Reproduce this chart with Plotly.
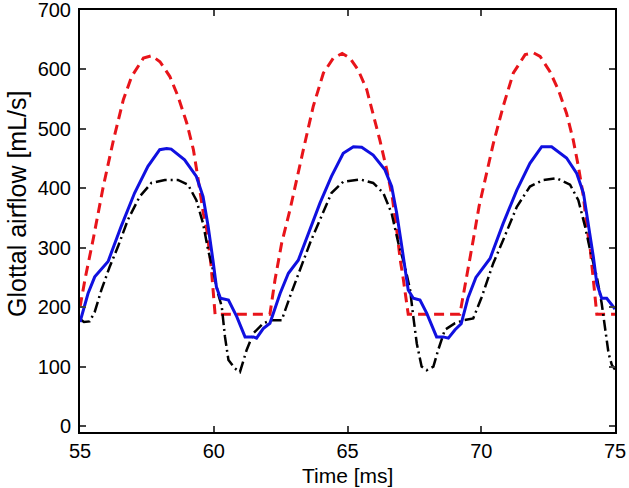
import plotly.graph_objects as go

# Red dashed curve
red_t = [55.0, 55.2, 55.5, 55.87, 56.25, 56.62, 56.93, 57.37, 57.68, 57.99, 58.36, 58.67, 58.99,
         59.24, 59.42, 59.61, 59.74, 59.9, 60.05, 62.1, 62.29, 62.54, 62.85, 63.22, 63.35, 63.72,
         64.1, 64.47, 64.8, 65.09, 65.4, 65.72, 65.96, 66.21, 66.47, 66.68, 66.84, 66.97, 67.09,
         67.27, 69.2, 69.46, 69.7, 69.92, 70.12, 70.45, 70.82, 71.2, 71.64, 71.95, 72.2, 72.57,
         72.88, 73.19, 73.44, 73.63, 73.82, 73.94, 74.07, 74.19, 74.32, 75.0]
red_v = [200, 250, 316, 403, 481, 549, 588, 619, 623, 613, 588, 554, 510,
         465, 414, 358, 330, 270, 188, 188, 246, 308, 364, 442, 465, 538,
         594, 619, 627, 619, 599, 566, 526, 481, 431, 383, 330, 280, 246,
         188, 188, 251, 313, 370, 410, 475, 538, 594, 625, 628, 622, 596,
         566, 526, 481, 437, 386, 336, 300, 251, 188, 188]

# Blue solid curve
blue_t = [55.0, 55.3, 55.55, 56.05, 56.54, 57.04, 57.54, 57.98, 58.24, 58.41, 58.91, 59.35, 59.6,
          59.79, 59.97, 60.1, 60.25, 60.55, 60.86, 61.17, 61.48, 61.6, 61.85, 62.1, 62.48, 62.79,
          63.16, 63.6, 63.97, 64.4, 64.84, 65.22, 65.53, 65.96, 66.4, 66.65, 66.84, 67.03, 67.15,
          67.27, 67.46, 67.71, 67.96, 68.21, 68.33, 68.58, 68.77, 69.02, 69.25, 69.5, 69.8, 70.33,
          70.82, 71.33, 71.82, 72.26, 72.63, 73.19, 73.57, 73.82, 74.0, 74.19, 74.32, 74.5, 74.69,
          74.93, 75.0]
blue_v = [175, 223, 251, 277, 336, 392, 437, 465, 467, 466, 448, 420, 386,
          336, 279, 234, 215, 212, 184, 150, 150, 148, 164, 173, 223, 257,
          279, 330, 375, 420, 459, 470, 469, 456, 431, 403, 358, 302, 263,
          229, 215, 212, 190, 162, 150, 150, 148, 162, 172, 215, 250, 282,
          341, 397, 442, 470, 470, 451, 425, 392, 341, 285, 240, 215, 215,
          201, 197]

# Black dash-dot curve
black_t = [55.0, 55.15, 55.36, 55.55, 55.8, 56.11, 56.42, 56.79, 57.23, 57.67, 58.17, 58.66, 59.04,
           59.35, 59.6, 59.79, 59.97, 60.16, 60.3, 60.42, 60.55, 60.79, 60.98, 61.23, 61.48, 61.85,
           62.17, 62.54, 62.85, 63.22, 63.6, 63.97, 64.4, 64.84, 65.47, 65.96, 66.34, 66.65, 66.9,
           67.15, 67.34, 67.46, 67.59, 67.77, 67.96, 68.21, 68.39, 68.64, 69.02, 69.33, 69.7, 70.0,
           70.45, 70.82, 71.33, 71.82, 72.32, 72.82, 73.32, 73.63, 73.88, 74.07, 74.32, 74.5, 74.63,
           74.76, 74.88, 75.0]
black_v = [180, 175, 176, 192, 229, 268, 302, 347, 386, 409, 414, 414, 406,
           380, 341, 296, 263, 223, 201, 150, 111, 97, 91, 128, 156, 173,
           178, 178, 218, 263, 308, 347, 392, 411, 415, 409, 392, 358, 308,
           268, 229, 184, 139, 100, 94, 100, 128, 162, 173, 178, 181, 215,
           274, 313, 369, 403, 414, 417, 406, 380, 336, 296, 251, 207, 167,
           122, 103, 95]

x_ticks = [55, 60, 65, 70, 75]
y_ticks = [0, 100, 200, 300, 400, 500, 600, 700]
x_title = "Time [ms]"
y_title = "Glottal airflow [mL/s]"

fig = go.Figure()
fig.add_trace(go.Scatter(x=red_t, y=red_v, mode="lines",
                         line=dict(color="#e8141a", width=3, dash="10px,6px")))
fig.add_trace(go.Scatter(x=black_t, y=black_v, mode="lines",
                         line=dict(color="black", width=2.5, dash="11px,4px,2px,4px")))
fig.add_trace(go.Scatter(x=blue_t, y=blue_v, mode="lines",
                         line=dict(color="#1010e0", width=3)))

FAM = "Liberation Sans, Arial, sans-serif"
tickfont = dict(family=FAM, size=20, color="black")
fig.update_layout(
    width=629, height=488,
    margin=dict(l=80, r=14, t=10, b=56),
    paper_bgcolor="white", plot_bgcolor="white",
    showlegend=False,
    font=tickfont,
    xaxis=dict(range=[55, 75], tickvals=x_ticks, ticks="inside", ticklen=6, tickwidth=1.5,
               showline=True, linecolor="black", linewidth=2, mirror="ticks",
               showgrid=False, zeroline=False, automargin=False, tickfont=tickfont,
               ticklabelstandoff=0, ticklabeloverflow="allow"),
    yaxis=dict(range=[-10, 700], tickvals=y_ticks, ticks="inside", ticklen=6, tickwidth=1.5,
               showline=True, linecolor="black", linewidth=2, mirror="ticks",
               showgrid=False, zeroline=False, automargin=False, tickfont=tickfont,
               ticklabelstandoff=3, ticklabeloverflow="allow"),
    annotations=[
        dict(text=x_title, xref="paper", yref="paper", x=0.5, y=-0.103,
             xanchor="center", yanchor="middle", showarrow=False,
             font=dict(family=FAM, size=21, color="black")),
        dict(text=y_title, xref="paper", yref="paper", x=-0.118, y=0.54,
             xanchor="center", yanchor="middle", showarrow=False, textangle=-90,
             font=dict(family=FAM, size=25, color="black")),
    ],
)

fig.write_html("out.html", config={"displayModeBar": False},
               post_script="document.body.style.margin='0';")
